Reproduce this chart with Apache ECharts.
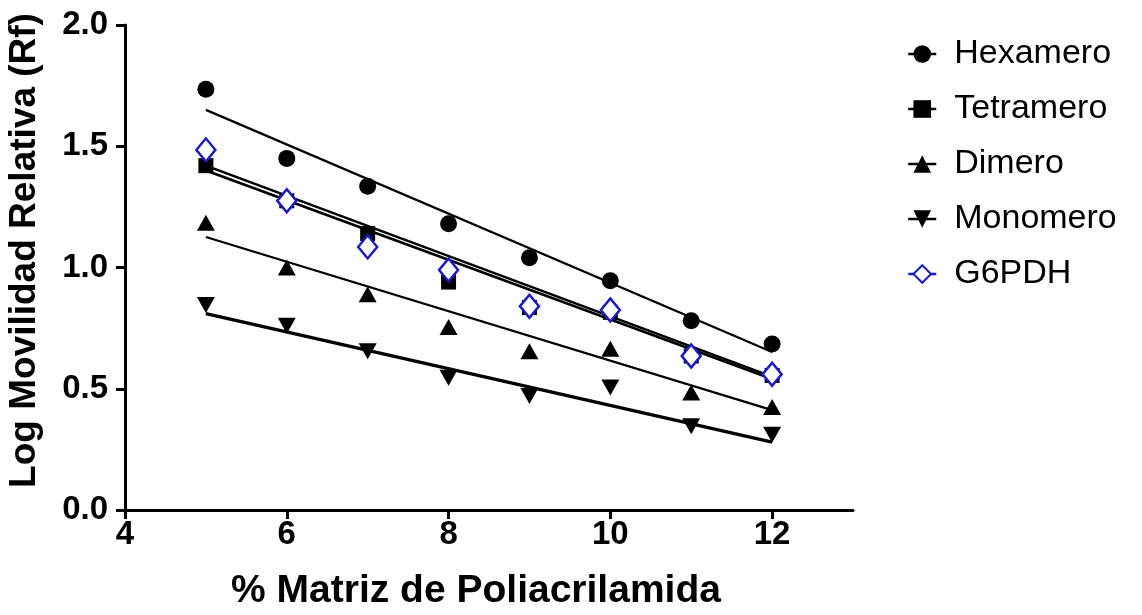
<!DOCTYPE html>
<html><head><meta charset="utf-8">
<script src="https://cdn.jsdelivr.net/npm/echarts@6/dist/echarts.min.js"></script>
<style>html,body{margin:0;padding:0;background:#fff}#c{width:1142px;height:615px}</style>
</head><body><div id="c"></div>
<script>
const xValues = [5, 6, 7, 8, 9, 10, 11, 12];
const hexamero  = [1.735, 1.45, 1.335, 1.18, 1.04, 0.945, 0.78, 0.685];
const tetramero = [1.42, 1.275, 1.14, 0.94, 0.835, 0.815, 0.635, 0.555];
const dimero    = [1.185, 1.0, 0.89, 0.755, 0.655, 0.665, 0.485, 0.425];
const monomero  = [0.845, 0.76, 0.655, 0.545, 0.47, 0.505, 0.345, 0.31];
const g6pdh     = [1.485, 1.275, 1.085, 0.99, 0.84, 0.825, 0.635, 0.56];
// fitted regression lines: values read at x = 5 and x = 12
const fitX = [5, 12];
const fitHexamero  = [1.65, 0.652];
const fitTetramero = [1.40, 0.54];
const fitDimero    = [1.126, 0.412];
const fitMonomero  = [0.81, 0.28];
const fitG6pdh     = [1.42, 0.55];
const xTicks = [4, 6, 8, 10, 12];
const seriesNames = ['Hexamero', 'Tetramero', 'Dimero', 'Monomero', 'G6PDH'];

const pts = (ys) => xValues.map((x, i) => [x, ys[i]]);
const fit = (ys) => fitX.map((x, i) => [x, ys[i]]);

const fitSeries = (ys, w) => ({
  type: 'line', data: fit(ys), showSymbol: false, silent: true, z: 3,
  lineStyle: { color: '#000', width: w }
});
const dataSeries = (name, ys, symbol, size, extra) => Object.assign({
  name, type: 'line', data: pts(ys), symbol, symbolSize: size, showSymbol: true,
  lineStyle: { opacity: 0, width: 0 }, itemStyle: { color: '#000' }, z: 4
}, extra || {});

const chart = echarts.init(document.getElementById('c'), null, { renderer: 'canvas' });
chart.setOption({
  animation: false,
  backgroundColor: '#fff',
  textStyle: { fontFamily: 'Liberation Sans, Arial, sans-serif' },
  grid: { left: 125, right: 289, top: 25, bottom: 105, containLabel: false, outerBoundsMode: 'none' },
  xAxis: {
    type: 'value', min: 4, max: 13, interval: 2,
    name: '% Matriz de Poliacrilamida', nameLocation: 'middle', nameGap: 62,
    nameTextStyle: { fontSize: 39, fontWeight: 'bold', color: '#000', padding: [0, 26, 0, 0] },
    axisLine: { show: true, onZero: false, lineStyle: { color: '#000', width: 3 } },
    axisTick: { show: true, inside: false, length: 9, lineStyle: { color: '#000', width: 3 }, customValues: xTicks },
    axisLabel: { fontSize: 33, fontWeight: 'bold', color: '#000', margin: 8, customValues: xTicks },
    splitLine: { show: false }
  },
  yAxis: {
    type: 'value', min: 0, max: 2, interval: 0.5,
    name: 'Log Movilidad Relativa (Rf)', nameLocation: 'middle', nameGap: 82,
    nameTextStyle: { fontSize: 37, fontWeight: 'bold', color: '#000', padding: [0, 0, 0, 34] },
    axisLine: { show: true, lineStyle: { color: '#000', width: 3 } },
    axisTick: { show: true, inside: false, length: 9, lineStyle: { color: '#000', width: 3 } },
    axisLabel: { fontSize: 33, fontWeight: 'bold', color: '#000', margin: 17, formatter: v => v.toFixed(1) },
    splitLine: { show: false }
  },
  legend: {
    orient: 'vertical', left: 902, top: 32, itemGap: 21,
    itemWidth: 28, itemHeight: 22,
    textStyle: { fontSize: 34, color: '#000', padding: [0, 0, 0, 13] },
    data: [
      { name: 'Hexamero', lineStyle: { opacity: 1, width: 2.5, color: '#000' } },
      { name: 'Tetramero', lineStyle: { opacity: 1, width: 2.5, color: '#000' } },
      { name: 'Dimero', lineStyle: { opacity: 1, width: 2.5, color: '#000' } },
      { name: 'Monomero', lineStyle: { opacity: 1, width: 2.5, color: '#000' } },
      { name: 'G6PDH', lineStyle: { opacity: 1, width: 2.5, color: '#1a1acc' } }
    ]
  },
  series: [
    fitSeries(fitHexamero, 2.2),
    fitSeries(fitTetramero, 2.6),
    fitSeries(fitG6pdh, 2.6),
    fitSeries(fitDimero, 2.2),
    fitSeries(fitMonomero, 3.4),
    dataSeries(seriesNames[0], hexamero, 'circle', 17),
    dataSeries(seriesNames[1], tetramero, 'rect', 15),
    dataSeries(seriesNames[2], dimero, 'triangle', [18, 16]),
    dataSeries(seriesNames[3], monomero, 'triangle', [18, 16], { symbolRotate: 180 }),
    dataSeries(seriesNames[4], g6pdh, 'diamond', [19, 23], {
      itemStyle: { color: '#fff', borderColor: '#1a1acc', borderWidth: 2.5 }, z: 5
    })
  ]
});
</script>
</body></html>
